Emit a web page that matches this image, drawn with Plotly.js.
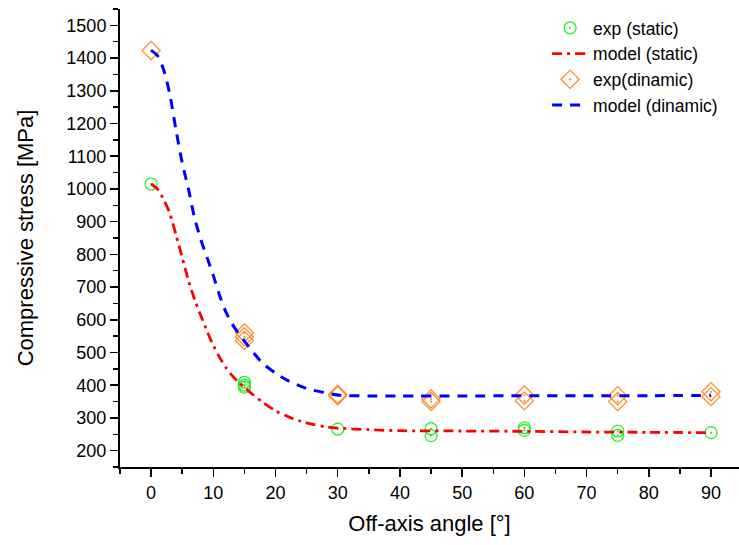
<!DOCTYPE html>
<html>
<head>
<meta charset="utf-8">
<script src="https://cdn.plot.ly/plotly-3.0.1.min.js"></script>
<style>html,body{margin:0;padding:0;background:#fff;}#chart{width:739px;height:545px;}</style>
</head>
<body>
<div id="chart"></div>
<script>
// Experimental data (static)
const staticAngle  = [0, 15, 15, 15, 30, 45, 45, 60, 60, 75, 75, 90];
const staticStress = [1015, 409, 400, 394, 266, 267, 246, 270, 262, 260, 247, 255];

// Experimental data (dynamic)
const dynAngle  = [0, 15, 15, 15, 30, 30, 45, 45, 60, 60, 75, 75, 90, 90];
const dynStress = [1423, 560, 548, 537, 372, 368, 358, 350, 370, 352, 368, 350, 380, 365];

// Model curve (static)
const modelStaticAngle  = [0, 1, 2, 3, 4, 5, 6, 7, 8, 9, 10, 11, 12, 13, 14, 15, 16, 18, 20, 22, 24, 26, 28, 30, 35, 40, 50, 60, 70, 80, 90];
const modelStaticStress = [1015, 1000, 968, 925, 860, 790, 720, 662, 612, 565, 522, 485, 455, 430, 410, 394, 377, 347, 322, 304, 290, 280, 273, 269, 264, 261, 260, 259, 257, 256, 255];

// Model curve (dynamic)
const modelDynAngle  = [0, 1, 2, 3, 4, 5, 6, 7, 8, 9, 10, 11, 12, 13, 14, 15, 16, 18, 20, 22, 25, 28, 30, 35, 40, 50, 60, 70, 80, 90];
const modelDynStress = [1423, 1408, 1365, 1290, 1180, 1080, 1000, 910, 845, 790, 735, 675, 625, 588, 560, 535, 510, 466, 437, 414, 390, 377, 370, 367, 367, 367, 368, 368, 368, 369];

// Labels
const seriesNames = ['exp (static)', 'model (static)', 'exp(dinamic)', 'model (dinamic)'];
const xTitle = 'Off-axis angle [°]';
const yTitle = 'Compressive stress [MPa]';
const xTickVals = [0, 10, 20, 30, 40, 50, 60, 70, 80, 90];
const yTickVals = [200, 300, 400, 500, 600, 700, 800, 900, 1000, 1100, 1200, 1300, 1400, 1500];

const FONT = 'Liberation Sans, Arial, sans-serif';

const traces = [
  {
    x: staticAngle, y: staticStress, name: seriesNames[0],
    type: 'scatter', mode: 'markers',
    marker: {symbol: 'circle-open-dot', size: 12, color: '#22ee22', line: {width: 1.2, color: '#22ee22'}}
  },
  {
    x: modelStaticAngle, y: modelStaticStress, name: seriesNames[1],
    type: 'scatter', mode: 'lines',
    line: {color: '#ff0000', width: 2.8, dash: '10px,5px,3px,5px', shape: 'spline', smoothing: 0.8}
  },
  {
    x: dynAngle, y: dynStress, name: seriesNames[2],
    type: 'scatter', mode: 'markers',
    marker: {symbol: 'diamond-open-dot', size: 14, color: '#ff8a1f', line: {width: 1.2, color: '#ff8a1f'}}
  },
  {
    x: modelDynAngle, y: modelDynStress, name: seriesNames[3],
    type: 'scatter', mode: 'lines',
    line: {color: '#0000ff', width: 3, dash: '10px,8px', shape: 'spline', smoothing: 0.8}
  }
];

const layout = {
  width: 739, height: 545,
  margin: {l: 120, r: 0, t: 9, b: 78, pad: 0},
  paper_bgcolor: '#ffffff', plot_bgcolor: '#ffffff',
  font: {family: FONT, color: '#000000', size: 18},
  showlegend: true,
  legend: {
    x: 0.69, y: 0.998, xanchor: 'left', yanchor: 'top',
    bgcolor: 'rgba(0,0,0,0)', borderwidth: 0,
    font: {family: FONT, size: 17.5, color: '#000'},
    tracegroupgap: 0, itemwidth: 36
  },
  xaxis: {
    range: [-5, 94.5], autorange: false,
    showgrid: false, zeroline: false,
    showline: true, linecolor: '#000', linewidth: 2,
    ticks: 'outside', ticklen: 8, tickwidth: 1.5, tickcolor: '#000',
    tickvals: xTickVals,
    tickfont: {family: FONT, size: 18, color: '#000'},
    minor: {dtick: 5, tick0: 0, ticks: 'outside', ticklen: 5, tickwidth: 1.5, tickcolor: '#000', showgrid: false},
    title: {text: xTitle, font: {family: FONT, size: 22, color: '#000'}, standoff: 14},
    automargin: false
  },
  yaxis: {
    range: [150, 1550], autorange: false,
    showgrid: false, zeroline: false,
    showline: true, linecolor: '#000', linewidth: 2,
    ticks: 'outside', ticklen: 8, tickwidth: 1.5, tickcolor: '#000',
    tickvals: yTickVals,
    tickfont: {family: FONT, size: 18, color: '#000'},
    minor: {dtick: 50, tick0: 0, ticks: 'outside', ticklen: 5, tickwidth: 1.5, tickcolor: '#000', showgrid: false},
    title: {text: yTitle, font: {family: FONT, size: 22, color: '#000'}, standoff: 27},
    automargin: false
  }
};

Plotly.newPlot('chart', traces, layout, {displayModeBar: false, staticPlot: true});
</script>
</body>
</html>
